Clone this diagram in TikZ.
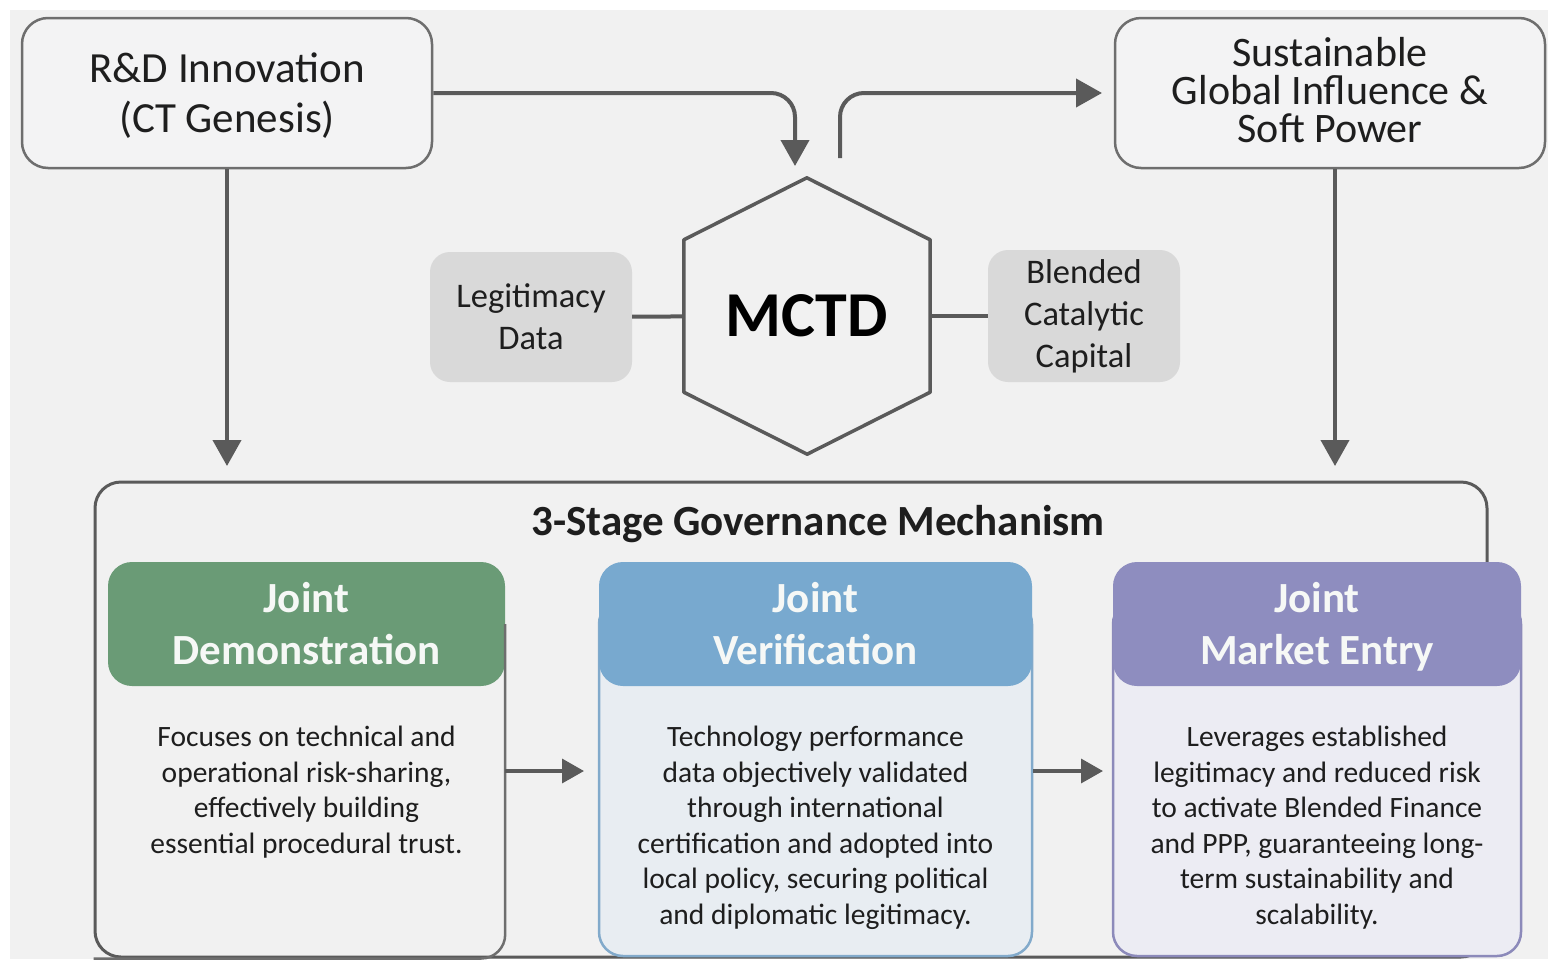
\documentclass[tikz,border=0pt]{standalone}
\usepackage{xcolor}
\usepackage{fontspec}
\setmainfont{Carlito}
\usepackage{tikz}
\usetikzlibrary{arrows.meta, positioning, calc}

\definecolor{bggray}{HTML}{F1F1F1}
\definecolor{boxfill}{HTML}{F3F3F4}
\definecolor{edgegray}{HTML}{6E6E6E}
\definecolor{sidegray}{HTML}{D9D9D9}
\definecolor{linegray}{HTML}{5A5A5A}
\definecolor{textdark}{HTML}{1E1E1E}
\definecolor{headtext}{HTML}{F6F8F6}
\definecolor{demohead}{HTML}{6A9B76}
\definecolor{verihead}{HTML}{78A9CF}
\definecolor{veribody}{HTML}{E8EDF2}
\definecolor{veriedge}{HTML}{82AACB}
\definecolor{markhead}{HTML}{8E8DBF}
\definecolor{markbody}{HTML}{ECECF3}
\definecolor{markedge}{HTML}{8C8ABA}

\begin{document}
\begin{tikzpicture}[x=1pt,y=-1pt,>={Triangle[length=26pt,width=28pt]},
			flow/.style={->,draw=linegray,line width=4pt,rounded corners=24pt},
			small flow/.style={-{Triangle[length=22pt,width=24pt]},draw=linegray,line width=3.5pt},
			link/.style={draw=linegray,line width=4pt},
			top node/.style={draw=edgegray,line width=2.5pt,fill=boxfill,rounded corners=26pt,minimum height=150pt,align=center,text=textdark,font=\fontsize{43}{50}\selectfont},
			side node/.style={fill=sidegray,rounded corners=20pt,align=center,text=textdark,font=\fontsize{34.5}{42}\selectfont},
			head node/.style={rounded corners=24pt,minimum height=124pt,align=center,text=headtext,font=\bfseries\fontsize{43}{52}\selectfont},
			body node/.style={rounded corners=24pt,line width=2.5pt,minimum height=356pt},
			card text/.style={anchor=north,align=center,inner sep=0pt,text=textdark,font=\fontsize{29.5}{35.5}\selectfont}]
			
			\useasboundingbox (0,0) rectangle (1548,959);
			\fill[white] (0,0) rectangle (1548,959);
			\fill[bggray] (10,10) rectangle (1548,959);
			
			% top row
			\node[top node,minimum width=410pt] (rd) at (227,93) {R\&D Innovation\\\smash{(}CT Genesis\smash{)}};
			\node[top node,minimum width=430pt,font=\fontsize{42}{38}\selectfont] (sg) at (1330,93) {Sustainable\\Global Influence \&\\Soft Power\vphantom{y}};
			
			% MCTD hub
			\node[inner sep=0pt,minimum width=246pt,minimum height=152pt,text=black,font=\bfseries\fontsize{64}{64}\selectfont] (mctd) at (807,316) {MCTD};
			\draw[draw=linegray,line width=3.5pt,line join=round]
				(mctd.north west) -- ++(123,-62) -- (mctd.north east) -- (mctd.south east)
				-- ++(-123,62) -- (mctd.south west) -- cycle;
			\node[side node,minimum width=202pt,minimum height=130pt] (legit) at (531,317) {Legitimacy\\Data};
			\node[side node,minimum width=192pt,minimum height=132pt] (blend) at (1084,316) {Blended\\Catalytic\\Capital};
			\draw[link] (legit) -- (mctd);
			\draw[link] (mctd) -- (blend);
			
			\coordinate (min) at (795,166);
			\coordinate (mout) at (840,158);
			\coordinate (sgin) at (1102,93);
			\coordinate (govl) at (227,466);
			\coordinate (govr) at (1335,466);
			\draw[flow] (rd.east) -| (min);
			\draw[flow] (mout) |- (sgin);
			\draw[flow] (rd.south) -- (govl);
			\draw[flow] (govr |- sg.south) -- (govr);
			
			% governance frame
			\node[draw=linegray,line width=3pt,fill=bggray,rounded corners=26pt,minimum width=1392pt,minimum height=475pt] (gov) at (791,719.5) {};
			\node[text=textdark,font=\bfseries\fontsize{43}{43}\selectfont] (title) at (818,524) {3-Stage Governance Mechanism};
			
			% stage cards
			\node[head node,fill=demohead,minimum width=397pt] (demo) at (306.5,624) {Joint\\Demonstration};
			\draw[draw=edgegray,line width=2.5pt,rounded corners=24pt] (demo.east) |- (gov.south west);
			\node[card text] (demotext) at (306.5,726) {Focuses on technical and\\operational risk-sharing,\\effectively building\\essential procedural trust.};
			
			\node[body node,draw=veriedge,fill=veribody,minimum width=433pt] (veribody) at (815.5,778) {};
			\node[head node,fill=verihead,minimum width=433pt] (veri) at (815.5,624) {Joint\\Verification};
			\node[card text] (veritext) at (815.5,726) {Technology performance\\data objectively validated\\through international\\certification and adopted into\\local policy, securing political\\and diplomatic legitimacy.};
			
			\node[body node,draw=markedge,fill=markbody,minimum width=408pt] (markbody) at (1317,778) {};
			\node[head node,fill=markhead,minimum width=408pt] (mark) at (1317,624) {Joint\\Market Entr\smash{y}};
			\node[card text] (marktext) at (1317,726) {Leverages established\\legitimacy and reduced risk\\to activate Blended Finance\\and PPP, guaranteeing long-\\term sustainability and\\scalability.};
			
			\coordinate (s12) at (584,771);
			\coordinate (s23) at (1103,771);
			\draw[small flow] (s12 -| demo.east) -- (s12);
			\draw[small flow] (s23 -| veribody.east) -- (s23);
		\end{tikzpicture}
\end{document}
